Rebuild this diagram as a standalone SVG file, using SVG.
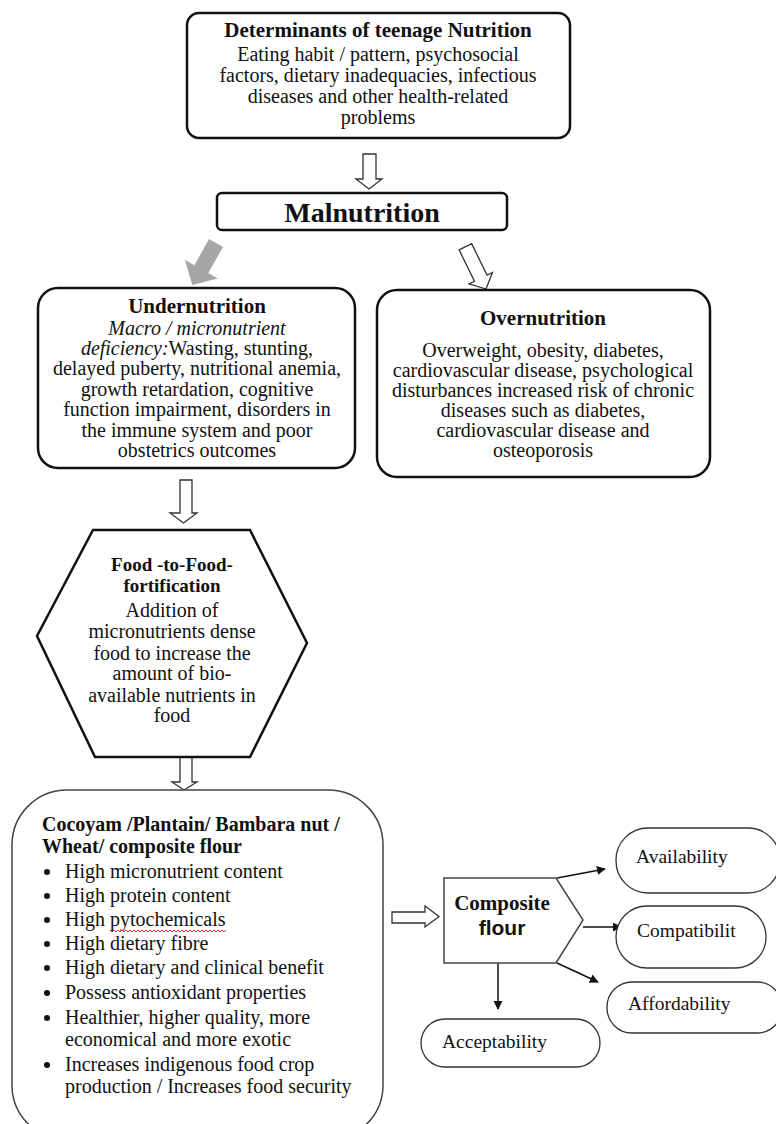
<svg xmlns="http://www.w3.org/2000/svg" width="776" height="1124" viewBox="0 0 776 1124">
<defs>
<style>
text{font-family:"Liberation Serif","Times New Roman",serif;fill:#111;}
.t{font-size:20px;}
.tb{font-size:21px;font-weight:bold;}
.c{text-anchor:middle;}
.box{fill:#fff;stroke:#111;stroke-width:2.5;}
.thin{fill:#fff;stroke:#444;stroke-width:1.5;}
.oval{fill:#fff;stroke:#333;stroke-width:1.3;}
.hollow{fill:#fff;stroke:#333;stroke-width:1.3;stroke-linejoin:miter;}
.line{stroke:#111;stroke-width:1.5;fill:none;}
.ov{font-size:19.5px;}
</style>
<marker id="ah" viewBox="0 0 10 10" refX="9" refY="5" markerWidth="9" markerHeight="9" markerUnits="userSpaceOnUse" orient="auto">
<path d="M0,0 L10,5 L0,10 z" fill="#111"/>
</marker>
</defs>
<rect width="776" height="1124" fill="#fff"/>

<g id="connectors">
<polygon class="hollow" points="363,154 376,154 376,179 382,179 369,189 356,179 363,179"/>
<polygon fill="#a6a6a6" points="209,239.1 223,246.9 208.3,273 217.8,278.4 192.3,285.1 184.8,259.8 194.3,265.2"/>
<g transform="translate(486,289) rotate(-26)">
<polygon class="hollow" points="-7,-47 7,-47 7,-12 13,-12 0,0 -13,-12 -7,-12"/>
</g>
<polygon class="hollow" points="180,480 192,480 192,513 197,513 183.5,523 170,513 180,513"/>
<polygon class="hollow" points="180,757 192,757 192,782 197,782 184,790 172,782 180,782"/>
<polygon class="hollow" points="392,912 425,912 425,906 439,916.5 425,927 425,923 392,923"/>
<line class="line" x1="557" y1="878" x2="605" y2="869" marker-end="url(#ah)"/>
<line class="line" x1="583" y1="927" x2="621" y2="927" marker-end="url(#ah)"/>
<line class="line" x1="557" y1="963" x2="598" y2="982" marker-end="url(#ah)"/>
<line class="line" x1="498" y1="963" x2="498" y2="1009" marker-end="url(#ah)"/>
</g>

<g id="determinants">
<rect class="box" x="187" y="13" width="383" height="125" rx="12"/>
<text class="tb c" x="378" y="37">Determinants of teenage Nutrition</text>
<text class="t c" x="378" y="61" font-size="21">Eating habit / pattern, psychosocial</text>
<text class="t c" x="378" y="82" font-size="21">factors, dietary inadequacies, infectious</text>
<text class="t c" x="378" y="103" font-size="21">diseases and other health-related</text>
<text class="t c" x="378" y="124" font-size="21">problems</text>
</g>

<g id="malnutrition">
<rect class="box" x="217" y="193" width="290" height="37" rx="5"/>
<text class="c" x="362" y="222" font-size="28" font-weight="bold">Malnutrition</text>
</g>

<g id="undernutrition">
<rect class="box" x="38" y="288" width="317" height="180" rx="20"/>
<text class="tb c" x="197" y="313">Undernutrition</text>
<text class="t c" x="197" y="335" font-style="italic">Macro / micronutrient</text>
<text class="t c" x="197" y="355"><tspan font-style="italic">deficiency:</tspan>Wasting, stunting,</text>
<text class="t c" x="197" y="375">delayed puberty, nutritional anemia,</text>
<text class="t c" x="197" y="396">growth retardation, cognitive</text>
<text class="t c" x="197" y="416">function impairment, disorders in</text>
<text class="t c" x="197" y="437">the immune system and poor</text>
<text class="t c" x="197" y="457">obstetrics outcomes</text>
</g>

<g id="overnutrition">
<rect class="box" x="377" y="290" width="333" height="187" rx="20"/>
<text class="tb c" x="543" y="325">Overnutrition</text>
<text class="t c" x="543" y="357">Overweight, obesity, diabetes,</text>
<text class="t c" x="543" y="377">cardiovascular disease, psychological</text>
<text class="t c" x="543" y="397">disturbances increased risk of chronic</text>
<text class="t c" x="543" y="417">diseases such as diabetes,</text>
<text class="t c" x="543" y="437">cardiovascular disease and</text>
<text class="t c" x="543" y="457">osteoporosis</text>
</g>

<g id="fortification">
<polygon class="box" points="93,530 250,530 307,643 250,757 95,757 37,636"/>
<text class="c" x="172" y="571" font-size="19" font-weight="bold">Food -to-Food-</text>
<text class="c" x="172" y="592" font-size="19" font-weight="bold">fortification</text>
<text class="t c" x="172" y="617">Addition of</text>
<text class="t c" x="172" y="638">micronutrients dense</text>
<text class="t c" x="172" y="660">food to increase the</text>
<text class="t c" x="172" y="680">amount of bio-</text>
<text class="t c" x="172" y="702">available nutrients in</text>
<text class="t c" x="172" y="722">food</text>
</g>

<g id="flour-box">
<rect class="thin" x="12" y="790" width="371" height="350" rx="55"/>
<text x="42" y="831" font-size="20" font-weight="bold">Cocoyam /Plantain/ Bambara nut /</text>
<text x="42" y="853" font-size="20" font-weight="bold">Wheat/ composite flour</text>
<g fill="#111">
<circle cx="47" cy="872" r="3"/>
<circle cx="47" cy="896" r="3"/>
<circle cx="47" cy="920" r="3"/>
<circle cx="47" cy="944" r="3"/>
<circle cx="47" cy="968" r="3"/>
<circle cx="47" cy="993" r="3"/>
<circle cx="47" cy="1018" r="3"/>
<circle cx="47" cy="1065" r="3"/>
</g>
<text class="t" x="65" y="878">High micronutrient content</text>
<text class="t" x="65" y="902">High protein content</text>
<text class="t" x="65" y="926">High pytochemicals</text>
<path d="M110,930 l2,2 l2,-2 l2,2 l2,-2 l2,2 l2,-2 l2,2 l2,-2 l2,2 l2,-2 l2,2 l2,-2 l2,2 l2,-2 l2,2 l2,-2 l2,2 l2,-2 l2,2 l2,-2 l2,2 l2,-2 l2,2 l2,-2 l2,2 l2,-2 l2,2 l2,-2 l2,2 l2,-2 l2,2 l2,-2 l2,2 l2,-2 l2,2 l2,-2 l2,2 l2,-2 l2,2 l2,-2 l2,2 l2,-2 l2,2 l2,-2 l2,2 l2,-2 l2,2 l2,-2 l2,2 l2,-2 l2,2 l2,-2 l2,2 l2,-2 l2,2 l2,-2 l2,2 l2,-2" fill="none" stroke="#e03030" stroke-width="1"/>
<text class="t" x="65" y="950">High dietary fibre</text>
<text class="t" x="65" y="974">High dietary and clinical benefit</text>
<text class="t" x="65" y="999">Possess antioxidant properties</text>
<text class="t" x="65" y="1024">Healthier, higher quality, more</text>
<text class="t" x="65" y="1046">economical and more exotic</text>
<text class="t" x="65" y="1071">Increases indigenous food crop</text>
<text class="t" x="65" y="1093">production / Increases food security</text>
</g>

<g id="composite-flour">
<polygon class="thin" points="444,878 556,878 583,920 556,963 444,963"/>
<text class="c" x="502" y="910" font-size="21" font-weight="bold">Composite</text>
<text class="c" x="502" y="935" font-size="21" font-weight="bold" style="font-family:'Liberation Sans',Arial,sans-serif">flour</text>
</g>

<g id="availability">
<rect class="oval" x="616" y="828" width="164" height="65" rx="32"/>
<text class="ov" x="636" y="863">Availability</text>
</g>
<g id="compatibility">
<rect class="oval" x="616" y="906" width="150" height="62" rx="31"/>
<text class="ov" x="637" y="937">Compatibilit</text>
</g>
<g id="affordability">
<rect class="oval" x="607" y="982" width="175" height="51" rx="25"/>
<text class="ov" x="628" y="1010">Affordability</text>
</g>
<g id="acceptability">
<rect class="oval" x="421" y="1019" width="179" height="48" rx="24"/>
<text class="ov" x="442" y="1048">Acceptability</text>
</g>
</svg>
